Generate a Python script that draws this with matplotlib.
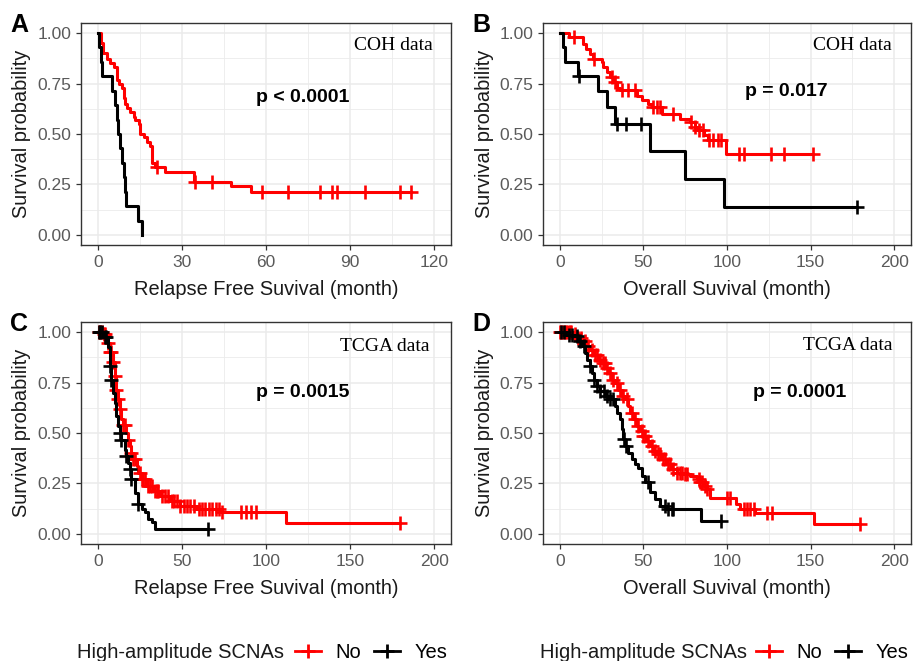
import numpy as np
import matplotlib
matplotlib.use('Agg')
import matplotlib.pyplot as plt
from matplotlib.lines import Line2D

plt.rcParams['font.family'] = ['Liberation Sans', 'DejaVu Sans']

# ---- data (time in months, survival probability) ----
# A: COH, relapse free survival
a_no_t = [0, 1.2, 2.0, 3.2, 4.4, 5.6, 6.8, 7.4, 8.6, 9.2, 9.8, 10.4, 11.6, 12.8,
          13.4, 14.6, 15.2, 16.4, 17.6, 18.7, 19.3, 20.5, 24.1, 34.3, 47.4, 54.6]
a_no_s = [1.0, 0.95, 0.90, 0.87, 0.85, 0.83, 0.77, 0.75, 0.73, 0.68, 0.65, 0.63, 0.61, 0.585,
          0.57, 0.55, 0.50, 0.485, 0.46, 0.44, 0.355, 0.338, 0.314, 0.264, 0.243, 0.215]
a_no_cens = [21.1, 34.6, 40.8, 58.7, 67.7, 79.3, 83.5, 85.4, 95.2, 107.7, 111.6]
a_yes_t = [0, 0.5, 1.0, 1.5, 5.0, 6.3, 6.8, 7.3, 8.0, 8.8, 9.3, 9.7, 10.2, 14.3, 15.6]
a_yes_s = [1.0, 0.929, 0.857, 0.786, 0.714, 0.643, 0.571, 0.5, 0.429, 0.357, 0.286,
           0.214, 0.143, 0.071, 0.0]
a_yes_cens = []

# B: COH, overall survival
b_no_t = [0, 5.5, 14.0, 16.0, 18.0, 20.0, 25.0, 26.0, 28.0, 30.0, 32.0, 34.0, 36.0, 46.0,
          49.0, 53.0, 55.0, 61.0, 72.0, 78.0, 80.6, 82.5, 86.5, 88.5, 99.4]
b_no_s = [1.0, 0.98, 0.946, 0.92, 0.897, 0.872, 0.855, 0.83, 0.806, 0.78, 0.757, 0.73, 0.716,
          0.69, 0.667, 0.65, 0.634, 0.60, 0.576, 0.56, 0.535, 0.52, 0.494, 0.47, 0.40]
b_no_cens = [8.5, 20.6, 31.0, 33.0, 37.0, 41.0, 45.0, 56.0, 58.0, 60.0, 68.0, 78.6, 80.6,
             83.5, 85.5, 89.5, 91.5, 94.4, 96.4, 107.3, 110.3, 126.2, 134.1, 151.4]
b_yes_t = [0, 2.2, 3.2, 11.0, 23.0, 28.0, 33.0, 54.2, 74.6, 98.0]
b_yes_s = [1.0, 0.929, 0.857, 0.786, 0.714, 0.634, 0.552, 0.414, 0.276, 0.138]
b_yes_cens = [11.5, 34.5, 39.5, 48.8, 178.0]

# C: TCGA, relapse free survival
c_no_t = [0, 3, 5, 7, 9, 10, 11, 12, 13, 14, 15, 17, 18, 19, 20, 21, 23, 24, 26, 29, 33,
          37, 43, 49, 59, 73, 111.8]
c_no_s = [1.0, 0.99, 0.947, 0.90, 0.85, 0.78, 0.715, 0.667, 0.62, 0.57, 0.54, 0.50, 0.467,
          0.434, 0.40, 0.37, 0.336, 0.303, 0.27, 0.238, 0.213, 0.189, 0.164, 0.14, 0.123,
          0.108, 0.056]
c_no_cens = [0.5, 1.5, 2.5, 3.5, 4.5, 6, 7, 8, 9, 10, 11, 12, 13, 15, 16, 18, 20, 21, 22,
             25, 26, 27, 28, 30, 31, 32, 34, 35, 36, 38, 40, 42, 44, 45, 47, 49, 51, 53, 55,
             57, 60, 62, 64, 66, 68, 70, 72, 74, 85, 88, 91, 94, 179.5]
c_yes_t = [0, 3, 6, 7, 8, 9, 10, 11, 12, 13, 14, 16, 17, 18, 19, 20, 22, 24, 26, 28, 30,
           32, 34]
c_yes_s = [1.0, 0.975, 0.926, 0.83, 0.764, 0.70, 0.65, 0.582, 0.533, 0.50, 0.467, 0.418,
           0.385, 0.352, 0.32, 0.27, 0.205, 0.148, 0.123, 0.107, 0.074, 0.057, 0.025]
c_yes_cens = [0.5, 1.5, 2.5, 4, 5, 7, 8, 13, 14, 17, 19, 20, 24, 65.5]

# D: TCGA, overall survival
d_no_t = [0, 8, 10.3, 13.3, 16.3, 18.3, 20.2, 23.2, 25.2, 27.2, 29.2, 31.2, 33.1, 35.1,
          37.1, 39.1, 41.1, 42.1, 44, 46, 48, 50, 52, 54, 56, 58, 61, 64, 67, 70, 74, 78,
          82, 84, 86, 88, 90, 105.4, 108, 117, 152]
d_no_s = [1.0, 0.99, 0.97, 0.954, 0.93, 0.913, 0.888, 0.863, 0.847, 0.822, 0.798, 0.765,
          0.748, 0.715, 0.683, 0.666, 0.633, 0.60, 0.567, 0.535, 0.51, 0.485, 0.46, 0.436,
          0.411, 0.395, 0.37, 0.345, 0.32, 0.304, 0.296, 0.288, 0.271, 0.255, 0.238, 0.222,
          0.18, 0.147, 0.122, 0.105, 0.048]
d_no_cens = [0, 1, 2, 3, 4, 5, 6, 7, 9, 11, 13, 15, 17, 19, 21, 22, 24, 26, 27, 28, 30, 32,
             34, 36, 38, 40, 43, 45, 47, 49, 50, 51, 53, 55, 57, 59, 60, 62, 63, 65, 66, 68,
             70, 72, 73, 75, 76, 83, 84, 85, 87, 88, 100, 101.6, 110, 112, 114, 116, 124,
             127, 179.4]
d_yes_t = [0, 3.4, 8.3, 11.3, 13.3, 15.3, 16.3, 18.3, 19.2, 20.2, 22.2, 24.2, 27.2, 30.2,
           33.1, 34.1, 36.1, 37.1, 38.1, 39.1, 41.1, 43.1, 45, 47, 49, 51, 54, 57, 60, 64,
           84.7]
d_yes_s = [1.0, 0.987, 0.979, 0.954, 0.929, 0.896, 0.863, 0.83, 0.798, 0.765, 0.732, 0.707,
           0.683, 0.666, 0.633, 0.60, 0.567, 0.518, 0.469, 0.436, 0.403, 0.37, 0.345, 0.329,
           0.288, 0.255, 0.206, 0.173, 0.14, 0.123, 0.066]
d_yes_cens = [0.5, 2.4, 5.4, 7.3, 10.3, 12.3, 14.3, 18.3, 20.2, 22.2, 24.2, 26.2, 28.2,
              30.2, 32, 38.5, 39.5, 53, 63, 65, 67, 68, 96.6]

panel_letters = ['A', 'B', 'C', 'D']
dataset_labels = ['COH data', 'COH data', 'TCGA data', 'TCGA data']
p_labels = ['p < 0.0001', 'p = 0.017', 'p = 0.0015', 'p = 0.0001']
x_titles = ['Relapse Free Suvival (month)', 'Overall Suvival (month)',
            'Relapse Free Suvival (month)', 'Overall Suvival (month)']
x_max = [120, 200, 200, 200]
x_step = [30, 50, 50, 50]
group_labels = ['No', 'Yes']
legend_title = 'High-amplitude SCNAs'

RED = '#FF0000'
BLACK = '#000000'
W, H = 914, 661


def fx(x):
    return x / W


def fy(y):
    return 1 - y / H


def draw_km(ax, t, s, cens, color):
    t_end = max([t[-1]] + list(cens))
    tt = list(t) + [t_end]
    ss = list(s) + [s[-1]]
    ax.step(tt, ss, where='post', color=color, lw=2.2)
    if len(cens):
        idx = np.searchsorted(t, cens, side='right') - 1
        ax.plot(cens, np.array(s)[idx], ls='none', marker='+', ms=10, mew=1.9,
                color=color)


fig = plt.figure(figsize=(W / 100, H / 100), dpi=100)

# axes boxes in pixels: left, top, right, bottom
boxes = [(81, 23, 451, 245), (543, 23, 911, 245),
         (81, 322, 451, 544), (543, 322, 911, 544)]
curves = [
    (a_no_t, a_no_s, a_no_cens, a_yes_t, a_yes_s, a_yes_cens),
    (b_no_t, b_no_s, b_no_cens, b_yes_t, b_yes_s, b_yes_cens),
    (c_no_t, c_no_s, c_no_cens, c_yes_t, c_yes_s, c_yes_cens),
    (d_no_t, d_no_s, d_no_cens, d_yes_t, d_yes_s, d_yes_cens),
]
text_pos = [(0.951, 0.878), (0.948, 0.878), (0.943, 0.869), (0.951, 0.874)]
p_pos = [(0.599, 0.645), (0.662, 0.673), (0.599, 0.661), (0.696, 0.664)]

for i, (l, t, r, b) in enumerate(boxes):
    ax = fig.add_axes([fx(l), fy(b), (r - l) / W, (b - t) / H])
    nt, ns, nc, yt, ys, yc = curves[i]
    draw_km(ax, nt, ns, nc, RED)
    draw_km(ax, yt, ys, yc, BLACK)

    xm = x_max[i]
    ax.set_xlim(-0.05 * xm, 1.05 * xm)
    ax.set_ylim(-0.05, 1.05)
    ax.set_xticks(np.arange(0, xm + 1, x_step[i]))
    ax.set_xticks(np.arange(x_step[i] / 2, xm, x_step[i]), minor=True)
    ax.set_yticks([0, 0.25, 0.5, 0.75, 1.0])
    ax.set_yticklabels(['0.00', '0.25', '0.50', '0.75', '1.00'])
    ax.set_yticks([0.125, 0.375, 0.625, 0.875], minor=True)
    ax.grid(which='major', color='#EBEBEB', lw=1.1)
    ax.grid(which='minor', color='#EBEBEB', lw=0.6)
    ax.set_axisbelow(True)
    ax.tick_params(which='major', length=3.5, width=0.9, color='#333333',
                   labelsize=12.5, labelcolor='#5A5A5A', pad=3.5)
    ax.tick_params(which='minor', length=0)
    for sp in ax.spines.values():
        sp.set_color('#333333')
        sp.set_linewidth(1.0)

    ax.text(*text_pos[i], dataset_labels[i], transform=ax.transAxes, ha='right',
            va='baseline', fontsize=14, family=['Liberation Serif', 'DejaVu Serif'])
    ax.text(*p_pos[i], p_labels[i], transform=ax.transAxes, ha='center',
            va='baseline', fontsize=14, fontweight='bold')

    # axis titles and panel letters
    fig.text(fx((l + r) / 2), fy(b + 44), x_titles[i], ha='center', va='center',
             fontsize=14.4, color='#1A1A1A')
    fig.text(fx(l - 59), fy((t + b) / 2), 'Survival probability', rotation=90,
             ha='center', va='center', fontsize=14.4, color='#1A1A1A')
    fig.text(fx(l - 71), fy(t + 9), panel_letters[i], ha='left', va='baseline',
             fontsize=18, fontweight='bold')

# legends under each column
handles = [Line2D([0], [0], color=RED, lw=2, marker='+', ms=10, mew=2),
           Line2D([0], [0], color=BLACK, lw=2, marker='+', ms=10, mew=2)]
for x_title, x_keys in [(77, 295), (540, 756)]:
    fig.text(fx(x_title), fy(653), legend_title, ha='left', va='center', fontsize=14.5,
             color='#1A1A1A')
    fig.legend(handles, group_labels, loc='center left',
               bbox_to_anchor=(fx(x_keys), fy(653)), ncol=2, frameon=False,
               fontsize=14.5, handlelength=1.3, handletextpad=0.7,
               columnspacing=0.65, borderpad=0, borderaxespad=0)

fig.savefig('out.png', dpi=100)
